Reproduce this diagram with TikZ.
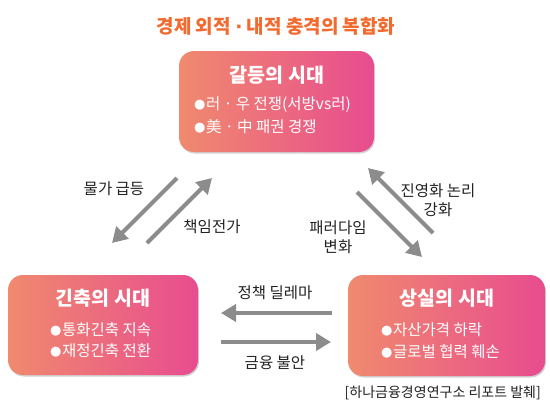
\documentclass[tikz,border=0pt]{standalone}
\usepackage{fontspec}
\setmainfont{Noto Sans CJK KR}
\newfontfamily\dejavu{DejaVu Sans}
\usetikzlibrary{arrows.meta,shadows}
\definecolor{boxL}{HTML}{F08A6E}
\definecolor{boxR}{HTML}{E84C8F}
\definecolor{titleC}{HTML}{F26A2E}
\definecolor{arrC}{HTML}{8C8C8C}
\definecolor{txtC}{HTML}{222222}
\newcommand\bul{\raisebox{1.2pt}{\dejavu\fontsize{13}{14}\selectfont ●}\hspace{0.5pt}}
\newcommand\ndot{{\dejavu\bfseries ·}}
\tikzset{
  erabox/.style={rounded corners=15pt, left color=boxL, right color=boxR, draw=none,
    drop shadow={shadow xshift=1pt, shadow yshift=-1.5pt, opacity=0.18, fill=black}},
  eratitle/.style={text=white, font=\fontsize{19.5}{22}\selectfont\bfseries, inner sep=0pt},
  bullet/.style={text=white, font=\fontsize{15.5}{18}\selectfont, inner sep=0pt, anchor=west},
  lbl/.style={text=txtC, font=\fontsize{15.5}{18}\selectfont, inner sep=0pt, align=center},
  garrow/.style={draw=arrC, line width=4pt, -{Triangle[length=15pt,width=17pt]}},
}
\begin{document}
\begin{tikzpicture}[x=1pt,y=-1pt]
\useasboundingbox (0,0) rectangle (550,415);
\fill[white] (0,0) rectangle (550,415);
% title
\node[text=titleC, font=\fontsize{19}{21}\selectfont\bfseries, inner sep=0pt] (title) at (276,26) {경제 외적 \ndot{} 내적 충격의 복합화};
% boxes
\path[erabox] (179,51) rectangle (374,152);
\coordinate (topbox) at (276.5,101.5);
\path[erabox] (8,275) rectangle (198,375);
\coordinate (leftbox) at (103,325);
\path[erabox] (348,275) rectangle (545,376);
\coordinate (rightbox) at (446.5,325.5);
% top box text
\node[eratitle] (t1) at (277,75) {갈등의 시대};
\node[bullet] (t1a) at (194,105) {\bul{}러 · 우 전쟁(서방vs러)};
\node[bullet] (t1b) at (194,127) {\bul{}美 · 中 패권 경쟁};
% left box text
\node[eratitle] (t2) at (103,298) {긴축의 시대};
\node[bullet] (t2a) at (50,330) {\bul{}통화긴축 지속};
\node[bullet] (t2b) at (50,351) {\bul{}재정긴축 전환};
% right box text
\node[eratitle] (t3) at (447,298) {상실의 시대};
\node[bullet] (t3a) at (381,330) {\bul{}자산가격 하락};
\node[bullet] (t3b) at (381,352) {\bul{}글로벌 협력 훼손};
% source
\node[lbl, font=\fontsize{14}{16}\selectfont, anchor=east] (src) at (541,393) {[하나금융경영연구소 리포트 발췌]};
% arrow coordinates
\coordinate (a1s) at (177,178); \coordinate (a1e) at (112,243);
\coordinate (a2s) at (147,243); \coordinate (a2e) at (212,178);
\coordinate (a3s) at (433,233); \coordinate (a3e) at (368,168);
\coordinate (a4s) at (357,192); \coordinate (a4e) at (422,257);
\coordinate (a5s) at (332,313); \coordinate (a5e) at (221,313);
\coordinate (a6s) at (221,342); \coordinate (a6e) at (331,342);
\draw[garrow] (a1s) -- (a1e);
\draw[garrow] (a2s) -- (a2e);
\draw[garrow] (a3s) -- (a3e);
\draw[garrow] (a4s) -- (a4e);
\draw[garrow] (a5s) -- (a5e);
\draw[garrow] (a6s) -- (a6e);
% labels
\node[lbl] (l1) at (114,189) {물가 급등};
\node[lbl] (l2) at (212,227) {책임전가};
\node[lbl] (l3) at (438,200) {진영화 논리\\[1pt]강화};
\node[lbl] (l4) at (338,237) {패러다임\\[1pt]변화};
\node[lbl] (l5) at (275,293) {정책 딜레마};
\node[lbl] (l6) at (275,363) {금융 불안};
\end{tikzpicture}
\end{document}
